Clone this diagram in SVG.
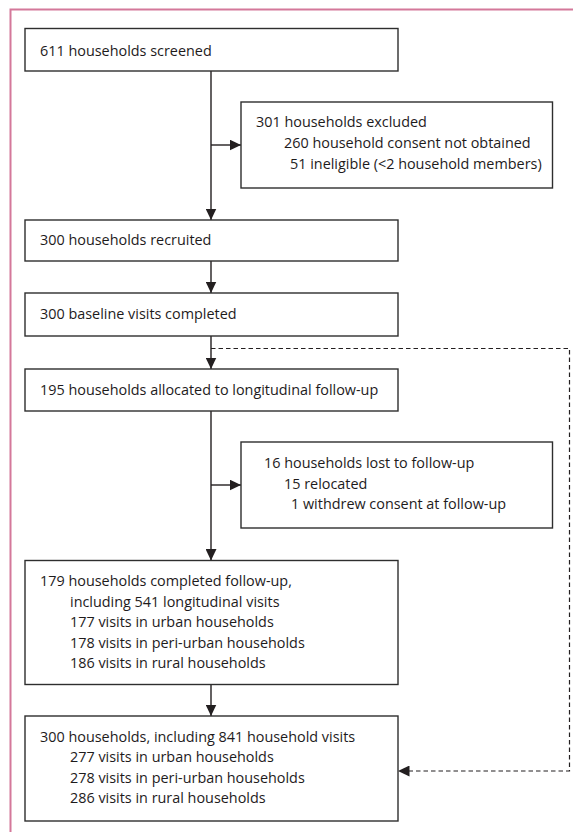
<svg xmlns="http://www.w3.org/2000/svg" width="573" height="832" viewBox="0 0 573 832">
<style>
.box{fill:#fff;stroke:#2e2e2e;stroke-width:1.4}
.t{font-family:"Open Sans","Noto Sans","Liberation Sans",sans-serif;font-size:14.4px;fill:#1e1b1c}
.c{fill:none;stroke:#231f20;stroke-width:1.4}
.d{fill:none;stroke:#231f20;stroke-width:1.2;stroke-dasharray:4.5 3}
.frame{fill:none;stroke:#d4789a;stroke-width:2}
</style>
<defs>
<marker id="ah" markerUnits="userSpaceOnUse" markerWidth="12" markerHeight="11" refX="11.5" refY="5.5" orient="auto">
<path d="M0,0 L11.5,5.5 L0,11 Z" fill="#231f20"/>
</marker>
</defs>
<rect width="573" height="832" fill="#fff"/>
<rect class="frame" x="10.5" y="9.5" width="700" height="900"/>
<g id="connectors">
<line class="c" x1="211" y1="71" x2="211" y2="220" marker-end="url(#ah)"/>
<line class="c" x1="211" y1="145" x2="241" y2="145" marker-end="url(#ah)"/>
<line class="c" x1="211" y1="261" x2="211" y2="293" marker-end="url(#ah)"/>
<line class="c" x1="211" y1="336" x2="211" y2="369" marker-end="url(#ah)"/>
<line class="c" x1="211" y1="411" x2="211" y2="560.5" marker-end="url(#ah)"/>
<line class="c" x1="211" y1="485" x2="241" y2="485" marker-end="url(#ah)"/>
<line class="c" x1="211" y1="684" x2="211" y2="716" marker-end="url(#ah)"/>
<path class="d" d="M211,348.5 H569.5 V771 H398" marker-end="url(#ah)"/>
</g>
<g id="screened">
<rect class="box" x="25" y="28.5" width="373" height="42.5"/>
<text class="t" x="40" y="55.5">611 households screened</text>
</g>
<g id="excluded">
<rect class="box" x="241" y="102" width="311.5" height="86"/>
<text class="t" x="256" y="127">301 households excluded</text>
<text class="t" x="284" y="148">260 household consent not obtained</text>
<text class="t" x="290" y="169">51 ineligible (&lt;2 household members)</text>
</g>
<g id="recruited">
<rect class="box" x="25" y="220" width="373" height="41"/>
<text class="t" x="40" y="245">300 households recruited</text>
</g>
<g id="baseline">
<rect class="box" x="25" y="293" width="373" height="43"/>
<text class="t" x="40" y="319">300 baseline visits completed</text>
</g>
<g id="allocated">
<rect class="box" x="25" y="369" width="373" height="42"/>
<text class="t" x="40" y="395">195 households allocated to longitudinal follow-up</text>
</g>
<g id="lost">
<rect class="box" x="241" y="442" width="311.5" height="86"/>
<text class="t" x="264" y="467.5">16 households lost to follow-up</text>
<text class="t" x="284" y="488.5">15 relocated</text>
<text class="t" x="291" y="509">1 withdrew consent at follow-up</text>
</g>
<g id="completed">
<rect class="box" x="25" y="560.5" width="373" height="124"/>
<text class="t" x="40" y="585.5">179 households completed follow-up,</text>
<text class="t" x="70" y="606.5">including 541 longitudinal visits</text>
<text class="t" x="70" y="627">177 visits in urban households</text>
<text class="t" x="70" y="647.5">178 visits in peri-urban households</text>
<text class="t" x="70" y="668">186 visits in rural households</text>
</g>
<g id="total">
<rect class="box" x="25" y="716" width="373" height="105"/>
<text class="t" x="40" y="741.5">300 households, including 841 household visits</text>
<text class="t" x="70" y="762">277 visits in urban households</text>
<text class="t" x="70" y="782.5">278 visits in peri-urban households</text>
<text class="t" x="70" y="803">286 visits in rural households</text>
</g>
</svg>
